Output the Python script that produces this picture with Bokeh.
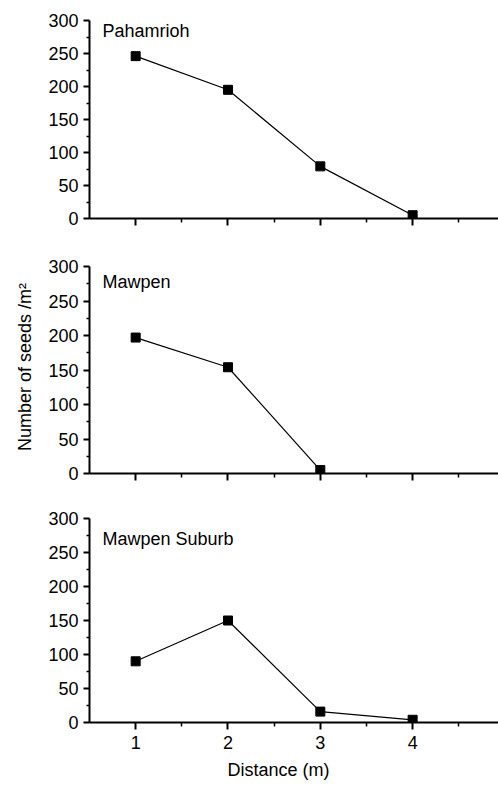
from bokeh.plotting import figure
from bokeh.layouts import column
from bokeh.models import Range1d, Label, Title, FixedTicker
from bokeh.embed import file_html
from bokeh.resources import INLINE

# ---- data ----
distance = [1, 2, 3, 4]
pahamrioh = [246, 195, 79, 5]
mawpen_distance = [1, 2, 3]
mawpen = [197, 154, 5]
suburb_distance = [1, 2, 3, 4]
mawpen_suburb = [90, 150, 16, 4]
site_names = ["Pahamrioh", "Mawpen", "Mawpen Suburb"]
x_ticks = [1, 2, 3, 4]
x_minor = [1.5, 2.5, 3.5, 4.5]
y_ticks = [0, 50, 100, 150, 200, 250, 300]
y_minor = [25, 75, 125, 175, 225, 275]
x_title = "Distance (m)"
y_title = "Number of seeds /m\u00b2"

FONT = "Liberation Sans"
FS = "18px"
PAD = 6  # px of frame above the 300 tick so panel labels are not clipped


def panel(xs, ys, name, frame_h, top, bottom, label_y, show_x=False, ylabel=None):
    fh = frame_h + PAD
    ymax = 300 * fh / frame_h
    p = figure(width=498, height=top - PAD + fh + bottom,
               frame_width=409, frame_height=fh,
               x_range=Range1d(0.5, 4.93), y_range=Range1d(0, ymax),
               output_backend="svg", toolbar_location=None,
               min_border_left=89, min_border_right=0,
               min_border_top=top - PAD, min_border_bottom=bottom)
    p.outline_line_color = None
    p.xgrid.visible = False
    p.ygrid.visible = False
    p.background_fill_color = "white"
    p.border_fill_color = "white"

    p.xaxis.ticker = FixedTicker(ticks=x_ticks, minor_ticks=x_minor)
    p.yaxis.ticker = FixedTicker(ticks=y_ticks, minor_ticks=y_minor)
    p.yaxis.bounds = (0, 300)
    for ax in (p.xaxis, p.yaxis):
        ax.axis_line_width = 2
        ax.axis_line_color = "black"
        ax.major_tick_line_width = 2
        ax.minor_tick_line_width = 1.5
        ax.major_tick_line_color = "black"
        ax.minor_tick_line_color = "black"
        ax.major_tick_in = 0
        ax.minor_tick_in = 0
        ax.major_label_text_font = FONT
        ax.major_label_text_font_size = FS
        ax.major_label_text_color = "black"
        ax.axis_label_text_font = FONT
        ax.axis_label_text_font_size = FS
        ax.axis_label_text_font_style = "normal"
        ax.axis_label_text_color = "black"
    p.yaxis.major_tick_out = 6
    p.yaxis.minor_tick_out = 3
    p.yaxis.major_label_standoff = 5
    p.xaxis.major_tick_out = 7
    p.xaxis.minor_tick_out = 4
    p.xaxis.major_label_standoff = 6
    if not show_x:
        p.xaxis.major_label_overrides = {t: "" for t in x_ticks}
        p.xaxis.major_label_standoff = 0
    if ylabel:
        p.yaxis.axis_label = ylabel
        p.yaxis.axis_label_standoff = 10

    p.line(xs, ys, line_color="black", line_width=1.2)
    p.scatter(xs, ys, marker="square", size=9, fill_color="black",
              line_color="black")

    p.add_layout(Label(x=0.64, y=label_y, text=name, text_font=FONT,
                       text_font_size=FS, text_color="black",
                       text_baseline="alphabetic", text_align="left"))
    return p


p1 = panel(distance, pahamrioh, site_names[0], 198, 20, 28, 284)
p2 = panel(mawpen_distance, mawpen, site_names[1], 207, 20, 25, 277, ylabel=y_title)
p3 = panel(suburb_distance, mawpen_suburb, site_names[2], 204, 20, 63, 270, show_x=True)
p3.add_layout(Title(text=x_title, align="left", offset=138, text_font=FONT,
                    text_font_size=FS, text_font_style="normal",
                    text_color="black", standoff=12), "below")

layout = column(p1, p2, p3, spacing=0)
open("out.html", "w").write(file_html(layout, INLINE))
